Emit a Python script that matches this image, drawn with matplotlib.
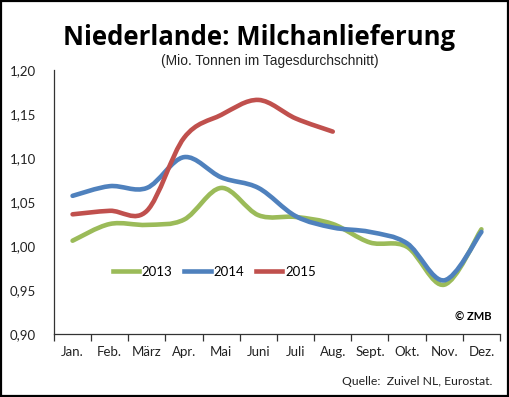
import matplotlib
matplotlib.use("Agg")
from matplotlib import pyplot as plt
from matplotlib.path import Path
from matplotlib.patches import PathPatch, Rectangle
from matplotlib.lines import Line2D

# data
months = ["Jan.", "Feb.", "März", "Apr.", "Mai", "Juni", "Juli", "Aug.", "Sept.", "Okt.", "Nov.", "Dez."]
y2013 = [1.006, 1.025, 1.024, 1.030, 1.066, 1.035, 1.033, 1.025, 1.004, 0.999, 0.956, 1.019]
y2014 = [1.057, 1.068, 1.066, 1.101, 1.078, 1.066, 1.034, 1.021, 1.016, 1.003, 0.961, 1.016]
y2015 = [1.036, 1.040, 1.040, 1.123, 1.149, 1.166, 1.145, 1.130]
years = ["2013", "2014", "2015"]
colors = ["#9bbb59", "#4f81bd", "#c0504d"]

plt.rcParams['font.family'] = ['Lato', 'DejaVu Sans']


def smooth_path(vals):
    # excel-like smoothed line: cubic bezier through every point
    pts = [(i + 0.5, v) for i, v in enumerate(vals)]
    n = len(pts)
    verts = [pts[0]]
    codes = [Path.MOVETO]
    for i in range(n - 1):
        p0 = pts[max(i - 1, 0)]
        p1 = pts[i]
        p2 = pts[i + 1]
        p3 = pts[min(i + 2, n - 1)]
        c1 = (p1[0] + (p2[0] - p0[0]) / 6, p1[1] + (p2[1] - p0[1]) / 6)
        c2 = (p2[0] - (p3[0] - p1[0]) / 6, p2[1] - (p3[1] - p1[1]) / 6)
        verts += [c1, c2, p2]
        codes += [Path.CURVE4] * 3
    return Path(verts, codes)


fig = plt.figure(figsize=(5.10, 3.97), dpi=100)
ax = fig.add_axes([54 / 510, 1 - 334 / 397, 446 / 510, 264 / 397])

for vals, c in zip([y2013, y2014, y2015], colors):
    ax.add_patch(PathPatch(smooth_path(vals), facecolor="none", edgecolor=c,
                           lw=3.3, capstyle="round", joinstyle="round", zorder=3))

ax.set_xlim(0, 12)
ax.set_ylim(0.90, 1.20)
ax.set_yticks([0.90, 0.95, 1.00, 1.05, 1.10, 1.15, 1.20])
ax.set_yticklabels(["0,90", "0,95", "1,00", "1,05", "1,10", "1,15", "1,20"], fontsize=9.5, color="#222222")
ax.tick_params(axis="y", length=0, pad=13)
ax.set_xticks(range(13))
ax.set_xticklabels([])
ax.tick_params(axis="x", which="major", length=5, direction="out", width=0.9, color="#333333")
ax.set_xticks([i + 0.5 for i in range(12)], minor=True)
ax.set_xticklabels(months, minor=True, fontsize=9.5, color="#222222")
ax.tick_params(axis="x", which="minor", length=0, pad=9)
for s in ["top", "right"]:
    ax.spines[s].set_visible(False)
for s in ["left", "bottom"]:
    ax.spines[s].set_color("#333333")
    ax.spines[s].set_linewidth(0.9)

handles = [Line2D([], [], color=c, lw=3.3) for c in colors]
ax.legend(handles, years, ncol=3, frameon=False, loc="center left",
          bbox_to_anchor=(0.105, 0.235), handlelength=2.0, handletextpad=0.2,
          columnspacing=0.9, fontsize=9.5)

fig.text(0.508, 0.905, "Niederlande: Milchanlieferung", ha="center", va="center",
         fontsize=18.5, fontweight="bold", family=["Open Sans", "DejaVu Sans"])
fig.text(0.529, 0.846, "(Mio. Tonnen im Tagesdurchschnitt)", ha="center", va="center",
         fontsize=9.9, family=["Liberation Sans", "DejaVu Sans"], color="#222222")
fig.text(0.963, 0.201, "© ZMB", ha="right", va="center", fontsize=8, fontweight="bold")
fig.text(0.965, 0.038, "Quelle:  Zuivel NL, Eurostat.", ha="right", va="center", fontsize=8.8, color="#222222")

fig.add_artist(Rectangle((0.002, 0.003), 0.994, 0.994, transform=fig.transFigure,
                         fill=False, edgecolor="black", lw=1.6))

fig.savefig("out.png", dpi=100)
